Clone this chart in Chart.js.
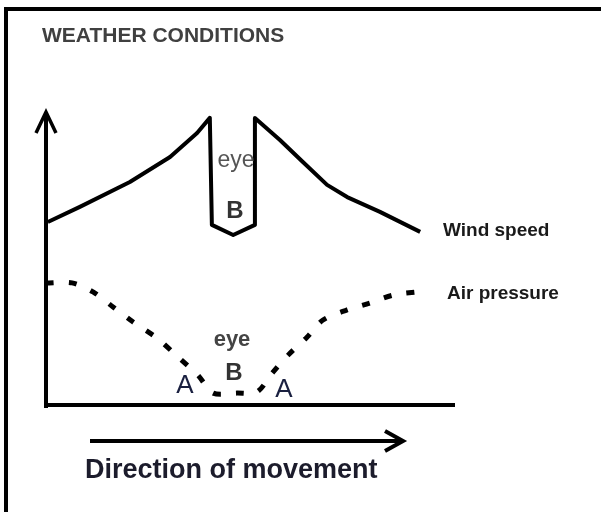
<!DOCTYPE html>
<html>
<head>
<meta charset="utf-8">
<script src="https://cdn.jsdelivr.net/npm/chart.js@4/dist/chart.umd.min.js"></script>
<style>
  body { margin: 0; background: #fff; }
  #wrap { width: 601px; height: 512px; }
</style>
</head>
<body>
<div id="wrap"><canvas id="chart" width="601" height="512"></canvas></div>
<script>
// distance along path (0-100) and relative value (0-100)
const windX = [0.7, 8.5, 20.7, 30.5, 37.1, 40.2, 40.7, 45.9, 51.2, 51.2, 57.3, 62.9, 68.8, 73.7, 81.7, 91.5];
const windY = [63.1, 68.3, 76.9, 85.5, 93.8, 99.0, 62.1, 58.6, 62.1, 99.0, 91.4, 83.8, 75.9, 71.7, 66.6, 59.7];

const pressX = [0.2, 6.6, 11.7, 16.6, 21.5, 27.3, 32.4, 37.3, 41.0, 46.8, 51.7, 55.4, 59.3, 63.9, 67.8, 73.7, 79.3, 84.9, 90.7];
const pressY = [42.1, 42.1, 39.0, 33.8, 28.6, 23.1, 16.6, 10.3, 4.1, 4.1, 4.5, 11.0, 17.2, 23.4, 29.3, 32.8, 35.2, 37.9, 39.0];

const seriesNames = ['Wind speed', 'Air pressure'];
const chartTitle = 'WEATHER CONDITIONS';
const xAxisLabel = 'Direction of movement';

const toPoints = (xs, ys) => xs.map((x, i) => ({ x: x, y: ys[i] }));

const decorations = {
  id: 'decorations',
  beforeDraw(chart) {
    const ctx = chart.ctx;
    ctx.save();
    ctx.fillStyle = '#fff';
    ctx.fillRect(0, 0, chart.width, chart.height);
    // frame
    ctx.fillStyle = '#000';
    ctx.fillRect(4, 7, 4, 505);
    ctx.fillRect(4, 7, 597, 4);
    ctx.restore();
  },
  afterDatasetsDraw(chart) {
    const ctx = chart.ctx;
    const xs = chart.scales.x, ys = chart.scales.y;
    const x0 = xs.getPixelForValue(0), x1 = xs.getPixelForValue(100);
    const y0 = ys.getPixelForValue(0), y1 = ys.getPixelForValue(100);
    ctx.save();
    ctx.strokeStyle = '#000';
    ctx.lineWidth = 4;
    ctx.lineCap = 'butt';
    // y axis with arrow
    ctx.beginPath();
    ctx.moveTo(x0 + 1, y0 + 3);
    ctx.lineTo(x0 + 1, y1 - 2);
    ctx.stroke();
    ctx.lineWidth = 3.5;
    ctx.beginPath();
    ctx.moveTo(x0 - 9, y1 + 18);
    ctx.lineTo(x0 + 1, y1 - 3);
    ctx.lineTo(x0 + 11, y1 + 18);
    ctx.stroke();
    // x axis
    ctx.lineWidth = 4;
    ctx.beginPath();
    ctx.moveTo(x0 - 1, y0);
    ctx.lineTo(x1, y0);
    ctx.stroke();
    // direction arrow
    ctx.beginPath();
    ctx.moveTo(90, 441);
    ctx.lineTo(400, 441);
    ctx.stroke();
    ctx.beginPath();
    ctx.moveTo(385, 431);
    ctx.lineTo(403, 441);
    ctx.lineTo(385, 451);
    ctx.stroke();

    // texts
    ctx.textBaseline = 'alphabetic';
    ctx.textAlign = 'left';
    ctx.fillStyle = '#404040';
    ctx.font = 'bold 21px "Liberation Sans", Arial, sans-serif';
    ctx.fillText(chartTitle, 42, 42);

    ctx.fillStyle = '#1c1c2c';
    ctx.font = 'bold 27px "Liberation Sans", Arial, sans-serif';
    ctx.fillText(xAxisLabel, 85, 478);

    ctx.fillStyle = '#1a1a1a';
    ctx.font = 'bold 19px "Liberation Sans", Arial, sans-serif';
    ctx.fillText(seriesNames[0], 443, 236);
    ctx.fillText(seriesNames[1], 447, 299);

    ctx.textAlign = 'center';
    ctx.fillStyle = '#555';
    ctx.font = '23px "Liberation Sans", Arial, sans-serif';
    ctx.fillText('eye', 236, 167);
    ctx.fillStyle = '#333';
    ctx.font = 'bold 24px "Liberation Sans", Arial, sans-serif';
    ctx.fillText('B', 235, 218);

    ctx.fillStyle = '#444';
    ctx.font = 'bold 22px "Liberation Sans", Arial, sans-serif';
    ctx.fillText('eye', 232, 346);
    ctx.fillStyle = '#333';
    ctx.font = 'bold 24px "Liberation Sans", Arial, sans-serif';
    ctx.fillText('B', 234, 380);

    ctx.fillStyle = '#1a2040';
    ctx.font = '26px "Liberation Sans", Arial, sans-serif';
    ctx.fillText('A', 185, 393);
    ctx.fillText('A', 284, 397);
    ctx.restore();
  }
};

new Chart(document.getElementById('chart'), {
  type: 'line',
  data: {
    datasets: [
      {
        label: seriesNames[0],
        data: toPoints(windX, windY),
        borderColor: '#000',
        borderWidth: 4,
        tension: 0,
        pointRadius: 0,
        borderJoinStyle: 'round',
        fill: false
      },
      {
        label: seriesNames[1],
        data: toPoints(pressX, pressY),
        borderColor: '#000',
        borderWidth: 5,
        borderDash: [8, 15],
        tension: 0.3,
        pointRadius: 0,
        fill: false
      }
    ]
  },
  options: {
    responsive: false,
    animation: false,
    layout: { padding: { left: 45, right: 146, top: 115, bottom: 107 } },
    plugins: {
      legend: { display: false },
      tooltip: { enabled: false },
      title: { display: false }
    },
    scales: {
      x: { type: 'linear', min: 0, max: 100, display: false },
      y: { type: 'linear', min: 0, max: 100, display: false }
    }
  },
  plugins: [decorations]
});
</script>
</body>
</html>
